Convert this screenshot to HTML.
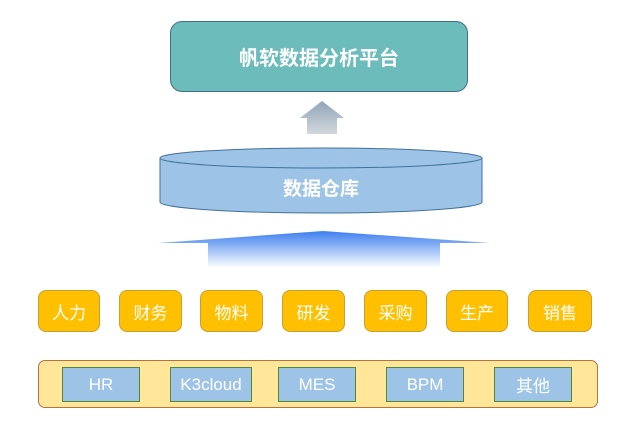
<!DOCTYPE html>
<html><head><meta charset="utf-8"><style>
body{margin:0;width:640px;height:428px;background:#fff;position:relative;overflow:hidden;font-family:"Liberation Sans","Noto Sans CJK SC",sans-serif}
.a{position:absolute;box-sizing:border-box;display:flex;align-items:center;justify-content:center}
.o{top:290px;height:42px;background:#fec000;border:1px solid #c9a030;border-radius:8px;color:#fff;font-size:17px}
.b{top:367px;height:35px;background:#9dc3e6;border:1.5px solid #4f8a3c;color:#fff;font-size:17px}
</style></head><body>
<div class="a" style="left:170px;top:21px;width:298px;height:71px;background:#6cbcbc;border:1px solid #3f6f8a;border-radius:12px;color:#fff;font-size:20px;font-weight:bold">帆软数据分析平台</div>
<svg class="a" style="left:0;top:0" width="640" height="428">
<defs>
<linearGradient id="g1" x1="0" y1="0" x2="0" y2="1"><stop offset="0" stop-color="#8fa5b8"/><stop offset="1" stop-color="#d3d8dc"/></linearGradient>
<linearGradient id="g2" x1="0" y1="0" x2="0" y2="1"><stop offset="0" stop-color="#3d7ef0"/><stop offset="0.4" stop-color="#8ab3f5"/><stop offset="1" stop-color="#ffffff"/></linearGradient>
</defs>
<polygon points="300,118 322,101 344,118 337,118 337,134 307,134 307,118" fill="url(#g1)"/>
<path d="M160,158 L160,202 A161,11 0 0 0 482,202 L482,158 Z" fill="#9dc3e6" stroke="#41719c" stroke-width="1"/>
<ellipse cx="321" cy="158" rx="161" ry="10" fill="#9dc3e6" stroke="#41719c" stroke-width="1"/>
<text x="321" y="195" text-anchor="middle" fill="#fff" font-size="19" font-weight="bold" font-family="Liberation Sans,Noto Sans CJK SC,sans-serif">数据仓库</text>
<polygon points="158,243 323,231 490,243 440,243 440,268 208,268 208,243" fill="url(#g2)"/>
</svg>
<div class="a o" style="left:38px;width:62px">人力</div>
<div class="a o" style="left:119px;width:63px">财务</div>
<div class="a o" style="left:200px;width:63px">物料</div>
<div class="a o" style="left:282px;width:63px">研发</div>
<div class="a o" style="left:364px;width:63px">采购</div>
<div class="a o" style="left:446px;width:62px">生产</div>
<div class="a o" style="left:528px;width:64px">销售</div>
<div class="a" style="left:38px;top:360px;width:560px;height:48px;background:#ffe699;border:1.5px solid #b5733a;border-radius:7px"></div>
<div class="a b" style="left:62px;width:78px">HR</div>
<div class="a b" style="left:170px;width:82px">K3cloud</div>
<div class="a b" style="left:278px;width:78px">MES</div>
<div class="a b" style="left:386px;width:78px">BPM</div>
<div class="a b" style="left:494px;width:78px">其他</div>
</body></html>
